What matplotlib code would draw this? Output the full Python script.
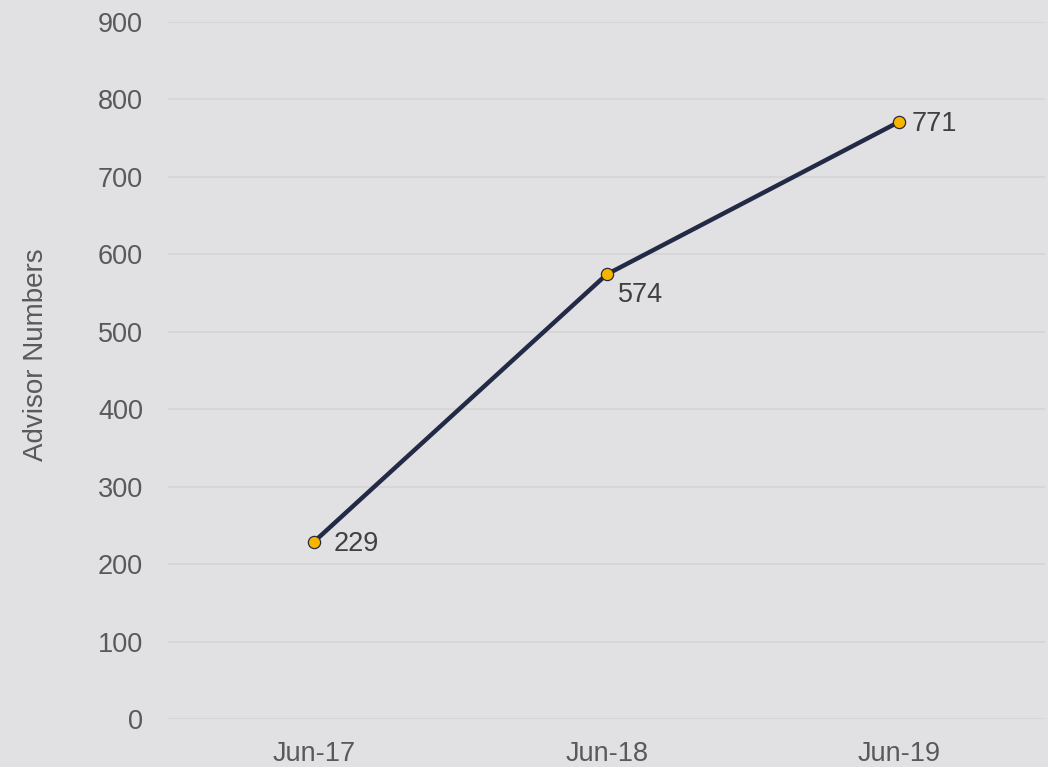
import numpy as np
import matplotlib
matplotlib.use('Agg')
import matplotlib.pyplot as plt

plt.rcParams['font.family'] = ['Liberation Sans', 'DejaVu Sans']

periods = ['Jun-17', 'Jun-18', 'Jun-19']
advisors = [229, 574, 771]
# label offsets in points (dx, dy)
label_offsets = [(14, -1.5), (8, -14.5), (9, -1.5)]

bg = '#e1e1e4'
fig = plt.figure(figsize=(10.48, 7.67), dpi=100, facecolor=bg)
ax = fig.add_axes([0.1603, 0.0626, 0.837, 0.9087], facecolor=bg)

x = np.arange(len(periods)) + 0.5
ax.plot(x, advisors, color='#222a45', lw=3.2, zorder=3, solid_capstyle='round')
ax.plot(x, advisors, 'o', ms=8.8, mfc='#f7b500', mec='#2a2a3a', mew=0.9, zorder=4)

for xi, v, (dx, dy) in zip(x, advisors, label_offsets):
    ax.annotate(str(v), (xi, v), xytext=(dx, dy), textcoords='offset points',
                ha='left', va='center', fontsize=19.5, color='#404040', zorder=5)

ax.set_xlim(0, 3)
ax.set_ylim(0, 900)
ax.set_yticks(range(0, 901, 100))
ax.set_xticks(x)
ax.set_xticklabels(periods)
ax.grid(axis='y', color='#d4d4d7', lw=1.2)
ax.set_axisbelow(True)
for s in ax.spines.values():
    s.set_visible(False)
ax.tick_params(axis='both', length=0, labelsize=19.5, labelcolor='#595959')
ax.tick_params(axis='y', pad=18)
ax.tick_params(axis='x', pad=16)
ax.set_ylabel('Advisor Numbers', fontsize=20, color='#595959')
ax.yaxis.set_label_coords(-0.136, 0.522)

fig.savefig('out.png', dpi=100, facecolor=bg)
